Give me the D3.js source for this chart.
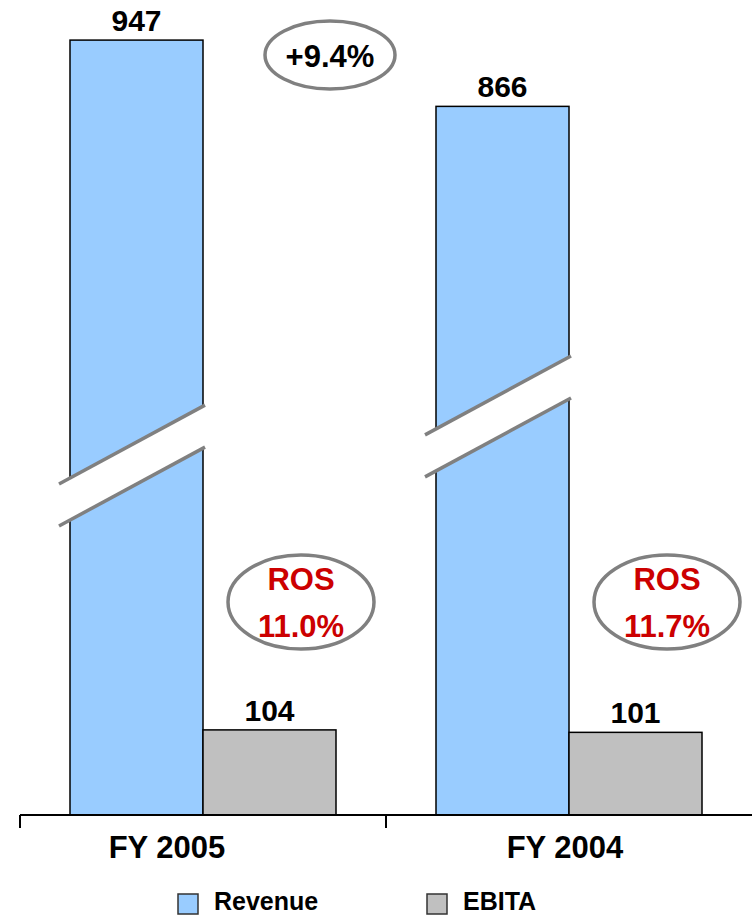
<!DOCTYPE html>
<html>
<head>
<meta charset="utf-8">
<title>Revenue and EBITA</title>
<script src="https://d3js.org/d3.v7.min.js"></script>
<style>
  body { margin: 0; background: #fff; }
  text { font-family: Arial, "Liberation Sans", sans-serif; font-weight: bold; }
</style>
</head>
<body>
<script>
// Data
var categories = ['FY 2005', 'FY 2004'];
var seriesNames = ['Revenue', 'EBITA'];
var revenue = [947, 866];
var ebita = [104, 101];
// value on the revenue bar where the axis-break band is drawn
var breakValues = [430, 490];

var colors = { Revenue: '#99CCFF', EBITA: '#C0C0C0' };
var width = 752, height = 917;
var baseY = 815;

var svg = d3.select('body').append('svg')
  .attr('width', width)
  .attr('height', height);

// Scales
var x0 = d3.scaleBand().domain(categories).range([20, 752]);
var x1 = d3.scaleBand().domain(seriesNames).range([50, 316]);
var y = d3.scaleLinear().domain([0, 996]).range([baseY, 0]);

var rows = categories.map(function(c, i) {
  return { cat: c, values: [
    { key: 'Revenue', value: revenue[i] },
    { key: 'EBITA', value: ebita[i] }
  ]};
});

// Bars
var groups = svg.selectAll('g.group')
  .data(rows)
  .enter().append('g')
  .attr('class', 'group')
  .attr('transform', function(d) { return 'translate(' + x0(d.cat) + ',0)'; });

groups.selectAll('rect')
  .data(function(d) { return d.values; })
  .enter().append('rect')
  .attr('x', function(d) { return x1(d.key); })
  .attr('y', function(d) { return y(d.value); })
  .attr('width', x1.bandwidth())
  .attr('height', function(d) { return baseY - y(d.value); })
  .attr('fill', function(d) { return colors[d.key]; })
  .attr('stroke', '#000')
  .attr('stroke-width', 1.5);

// Value labels
groups.selectAll('text.value')
  .data(function(d) { return d.values; })
  .enter().append('text')
  .attr('class', 'value')
  .attr('x', function(d) { return x1(d.key) + x1.bandwidth() / 2; })
  .attr('y', function(d) { return y(d.value) - 9; })
  .attr('text-anchor', 'middle')
  .style('font-size', '30px')
  .text(function(d) { return d.value; });

// Axis break on revenue bars
var slope = -0.54, half = 21;
groups.each(function(d, i) {
  var g = d3.select(this);
  var bl = x1('Revenue'), br = bl + x1.bandwidth();
  var xm = (bl + br) / 2;
  var yc = y(breakValues[i]);
  var xl = bl - 11, xr = br + 2;
  function yAt(x, off) { return yc + slope * (x - xm) + off; }
  g.append('polygon')
    .attr('points', [[xl, yAt(xl, -half)], [xr, yAt(xr, -half)], [xr, yAt(xr, half)], [xl, yAt(xl, half)]].join(' '))
    .attr('fill', '#fff');
  [-half, half].forEach(function(off) {
    g.append('line')
      .attr('x1', xl).attr('y1', yAt(xl, off))
      .attr('x2', xr).attr('y2', yAt(xr, off))
      .attr('stroke', '#808080')
      .attr('stroke-width', 3.5);
  });
});

// Axis
svg.append('line')
  .attr('x1', 20).attr('x2', 752)
  .attr('y1', baseY).attr('y2', baseY)
  .attr('stroke', '#000').attr('stroke-width', 2);
svg.selectAll('line.tick')
  .data(categories)
  .enter().append('line')
  .attr('class', 'tick')
  .attr('x1', function(d) { return x0(d); })
  .attr('x2', function(d) { return x0(d); })
  .attr('y1', baseY).attr('y2', baseY + 13)
  .attr('stroke', '#000').attr('stroke-width', 2);

var labelShift = [-36, -4];
svg.selectAll('text.cat')
  .data(categories)
  .enter().append('text')
  .attr('class', 'cat')
  .attr('x', function(d, i) { return x0(d) + x0.bandwidth() / 2 + labelShift[i]; })
  .attr('y', 858)
  .attr('text-anchor', 'middle')
  .style('font-size', '31px')
  .text(function(d) { return d; });

// Growth ellipse
var growth = (revenue[0] - revenue[1]) / revenue[1] * 100;
var gx = x0(categories[0]) + 310;
svg.append('ellipse')
  .attr('cx', gx).attr('cy', 55)
  .attr('rx', 65).attr('ry', 34)
  .attr('fill', '#fff')
  .attr('stroke', '#808080').attr('stroke-width', 3.5);
svg.append('text')
  .attr('x', gx).attr('y', 67)
  .attr('text-anchor', 'middle')
  .style('font-size', '31px')
  .text('+' + growth.toFixed(1) + '%');

// ROS ellipses
categories.forEach(function(c, i) {
  var cx = x0(c) + 281;
  var ros = ebita[i] / revenue[i] * 100;
  svg.append('ellipse')
    .attr('cx', cx).attr('cy', 602)
    .attr('rx', 73).attr('ry', 47)
    .attr('fill', '#fff')
    .attr('stroke', '#808080').attr('stroke-width', 3.5);
  svg.append('text')
    .attr('x', cx).attr('y', 590)
    .attr('text-anchor', 'middle')
    .attr('fill', '#CC0000')
    .style('font-size', '31px')
    .text('ROS');
  svg.append('text')
    .attr('x', cx).attr('y', 637)
    .attr('text-anchor', 'middle')
    .attr('fill', '#CC0000')
    .style('font-size', '31px')
    .text(ros.toFixed(1) + '%');
});

// Legend
var legend = svg.selectAll('g.legend')
  .data(seriesNames)
  .enter().append('g')
  .attr('class', 'legend')
  .attr('transform', function(d, i) { return 'translate(' + (178 + i * 249) + ',894)'; });
legend.append('rect')
  .attr('width', 20).attr('height', 20)
  .attr('fill', function(d) { return colors[d]; })
  .attr('stroke', '#333').attr('stroke-width', 1.5);
legend.append('text')
  .attr('x', 36).attr('y', 16)
  .style('font-size', '25px')
  .text(function(d) { return d; });
</script>
</body>
</html>
